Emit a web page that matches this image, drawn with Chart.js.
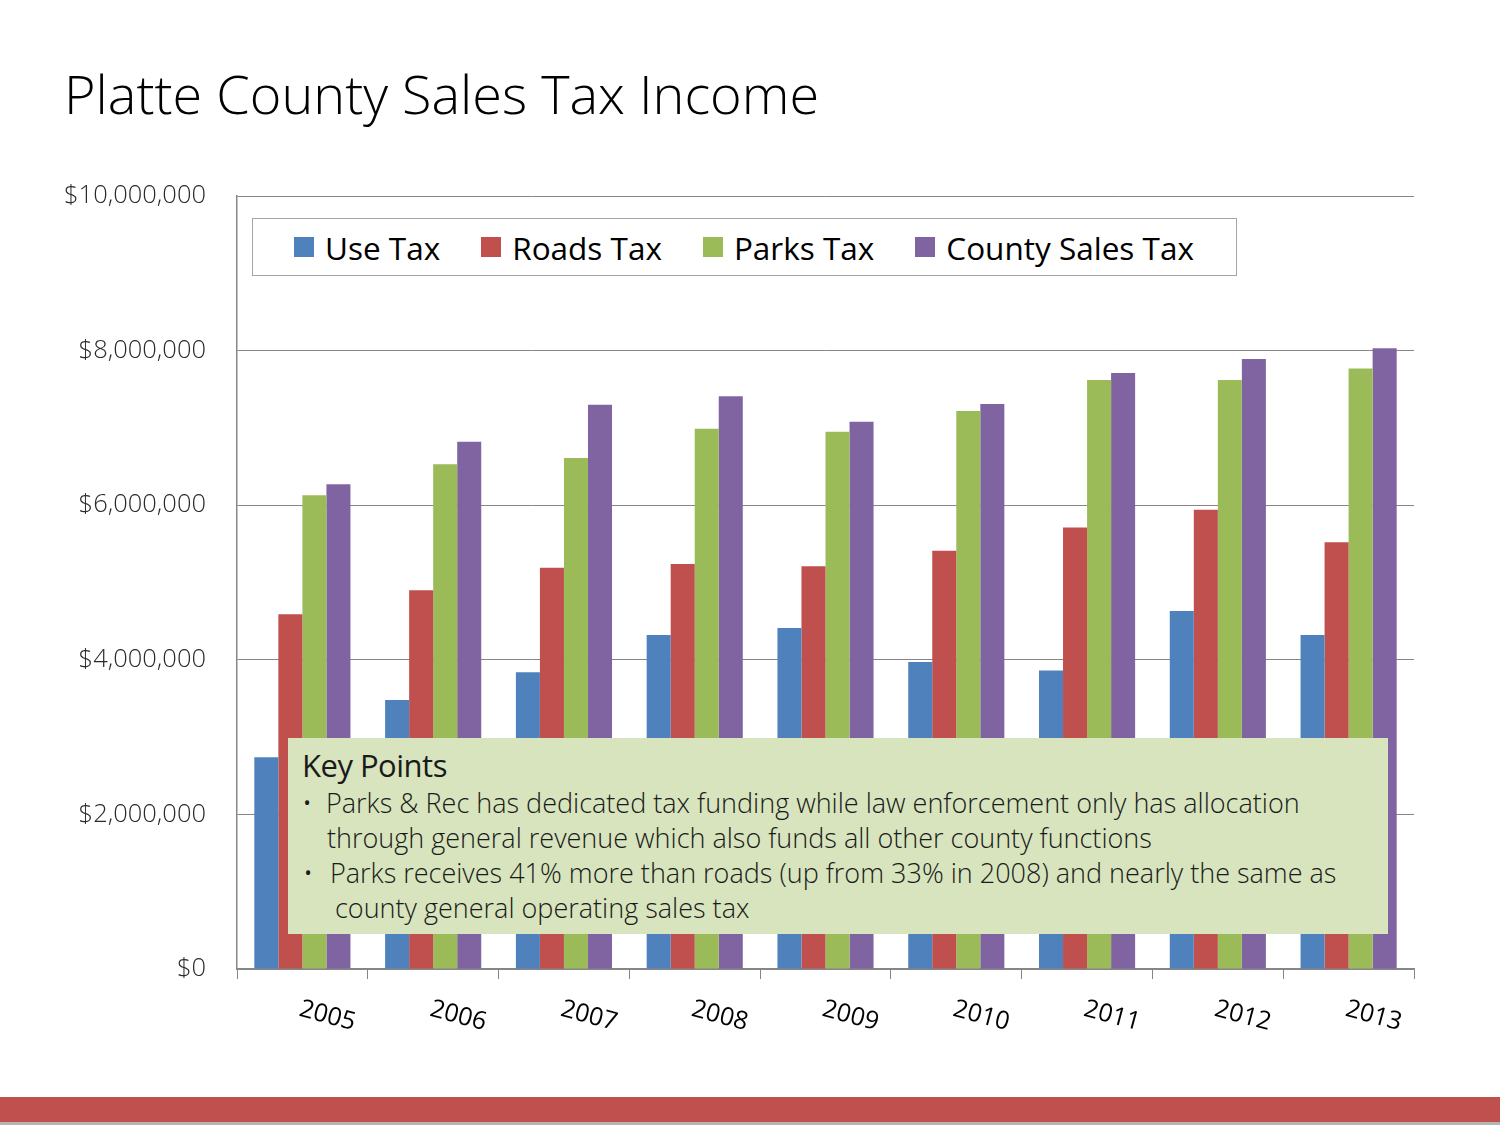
<!DOCTYPE html>
<html>
<head>
<meta charset="utf-8">
<script src="https://cdn.jsdelivr.net/npm/chart.js@4.4.1/dist/chart.umd.min.js"></script>
<style>
  html, body { margin: 0; padding: 0; background: #fff; }
  #page { position: relative; width: 1500px; height: 1125px; overflow: hidden; font-family: "Open Sans", sans-serif; }
  #title { position: absolute; left: 64px; top: 66px; margin: 0; font-size: 54px; font-weight: 300; color: #000; white-space: nowrap; line-height: 1; }
  canvas { position: absolute; left: 0; top: 0; }
  #legend { position: absolute; left: 252px; top: 218px; width: 985px; height: 58px; border: 1px solid #a6a6a6; background: #fff; display: flex; align-items: center; padding-left: 41px; box-sizing: border-box; }
  .item { display: flex; align-items: center; margin-right: 41px; font-size: 31.5px; color: #000; white-space: nowrap; }
  .item span.sw { display: inline-block; width: 20px; height: 20px; margin-right: 11px; }
  #keypoints { position: absolute; left: 288px; top: 738px; width: 1100px; height: 196px; background: #d7e4bd; box-sizing: border-box; padding: 7px 0 0 14px; color: #1a1a1a; white-space: nowrap; }
  #keypoints .head { font-size: 31px; font-weight: 400; letter-spacing: -0.5px; line-height: 40px; }
  #keypoints .line { font-size: 27px; font-weight: 300; line-height: 35px; position: relative; }
  #keypoints .line b { position: absolute; font-weight: 300; }
</style>
</head>
<body>
<div id="page">
  <h1 id="title">Platte County Sales Tax Income</h1>
  <canvas id="taxChart" width="1500" height="1125"></canvas>
  <div id="legend"></div>
  <div id="keypoints">
    <div class="head">Key Points</div>
    <div class="line" style="padding-left:24px"><b style="left:0">•</b>Parks &amp; Rec has dedicated tax funding while law enforcement only has allocation</div>
    <div class="line" style="padding-left:25px">through general revenue which also funds all other county functions</div>
    <div class="line" style="padding-left:28px"><b style="left:1px">•</b>Parks receives 41% more than roads (up from 33% in 2008) and nearly the same as</div>
    <div class="line" style="padding-left:33px">county general operating sales tax</div>
  </div>
  <div style="position:absolute;left:0;top:1097px;width:1500px;height:25px;background:#c0504d"></div>
  <div style="position:absolute;left:0;top:1122px;width:1500px;height:3px;background:#b5b5b5"></div>
</div>
<script>
// data
const years = ["2005", "2006", "2007", "2008", "2009", "2010", "2011", "2012", "2013"];
const useTax = [2740000, 3480000, 3840000, 4320000, 4410000, 3970000, 3860000, 4630000, 4320000];
const roadsTax = [4590000, 4900000, 5190000, 5240000, 5210000, 5410000, 5710000, 5940000, 5520000];
const parksTax = [6130000, 6530000, 6610000, 6990000, 6950000, 7220000, 7620000, 7620000, 7770000];
const countySalesTax = [6270000, 6820000, 7300000, 7410000, 7080000, 7310000, 7710000, 7890000, 8030000];
const yTicks = [0, 2000000, 4000000, 6000000, 8000000, 10000000];

const seriesNames = ["Use Tax", "Roads Tax", "Parks Tax", "County Sales Tax"];
const colors = ["#4f81bd", "#c0504d", "#9bbb59", "#8064a2"];
const seriesData = [useTax, roadsTax, parksTax, countySalesTax];

// slanted year labels (drawn clockwise like the original)
const yearLabels = {
    id: "yearLabels",
    afterDraw(chart) {
        const xs = chart.scales.x;
        const c = chart.ctx;
        c.save();
        c.font = "25px 'Open Sans'";
        c.fillStyle = "#000";
        c.textAlign = "center";
        c.textBaseline = "middle";
        years.forEach((yr, i) => {
            const px = xs.getPixelForValue(i);
            c.save();
            c.translate(px + 25, xs.top + 47);
            c.rotate(15 * Math.PI / 180);
            c.fillText(yr, 0, 0);
            c.restore();
        });
        c.restore();
    }
};

const chart = new Chart(document.getElementById("taxChart"), {
    type: "bar",
    data: {
        labels: years,
        datasets: seriesNames.map((name, i) => ({
            label: name,
            data: seriesData[i],
            backgroundColor: colors[i],
            borderWidth: 0,
            barPercentage: 1.0,
            categoryPercentage: 0.735,
        })),
    },
    options: {
        responsive: false,
        animation: false,
        layout: { padding: { top: 196, right: 86, left: 0, bottom: 0 } },
        plugins: { legend: { display: false }, tooltip: { enabled: false } },
        scales: {
            x: {
                grid: { offset: true, drawOnChartArea: false, drawTicks: true, tickLength: 10, color: "#868686" },
                border: { color: "#868686", width: 1.5 },
                ticks: { display: false },
                afterFit: (s) => { s.height = 156; },
            },
            y: {
                min: 0,
                max: 10000000,
                afterBuildTicks: (s) => { s.ticks = yTicks.map(v => ({ value: v })); },
                grid: { color: "#868686", drawTicks: false, lineWidth: 1 },
                border: { color: "#868686", width: 1.5 },
                ticks: {
                    padding: 31,
                    color: "#2a2a2a",
                    font: { family: "'Open Sans'", size: 25.5, weight: 300 },
                    callback: (v) => "$" + v.toLocaleString("en-US"),
                },
                afterFit: (s) => { s.width = 237; },
            },
        },
    },
    plugins: [yearLabels],
});

// legend
const legend = document.getElementById("legend");
seriesNames.forEach((name, i) => {
    const it = document.createElement("div");
    it.className = "item";
    it.innerHTML = '<span class="sw" style="background:' + colors[i] + '"></span>' + name;
    legend.appendChild(it);
});
</script>
</body>
</html>
